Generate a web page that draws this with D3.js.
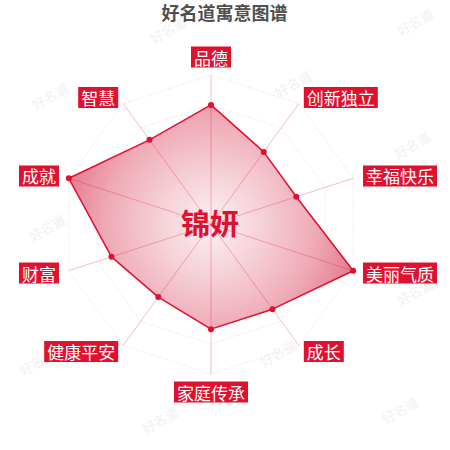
<!DOCTYPE html>
<html><head><meta charset="utf-8">
<script src="https://cdn.jsdelivr.net/npm/d3@7/dist/d3.min.js"></script>
<style>
html,body{margin:0;padding:0;background:#fff;}
svg{display:block;font-family:"Noto Sans CJK SC","Noto Sans",sans-serif;}
</style></head>
<body>
<svg id="chart" width="450" height="450"></svg>
<script>
const title = "好名道寓意图谱";
const centerName = "锦妍";
const indicators = ["品德","创新独立","幸福快乐","美丽气质","成长","家庭传承","健康平安","财富","成就","智慧"];
const values = [80, 60, 60, 100, 70, 70, 60, 70, 100, 70];
const maxValue = 100;
const splitLevels = [20, 40, 60, 80, 100];
const watermarkText = "好名道";

const W = 450, H = 450;
const cx = 211, cy = 224.5, R = 149.5;
const red = "#e0102f";

const svg = d3.select("#chart");
const defs = svg.append("defs");
const grad = defs.append("radialGradient").attr("id","fillGrad")
  .attr("gradientUnits","userSpaceOnUse").attr("cx",cx).attr("cy",cy).attr("r",R);
[[0,"#fcf0f2"],[0.35,"#f6d0d7"],[0.7,"#efaab7"],[1,"#e57b8d"]].forEach(s=>{
  grad.append("stop").attr("offset",s[0]).attr("stop-color",s[1]);
});

// watermarks (decorative)
const wmPos = [[415,22],[168,30],[293,84],[50,96],[412,145],[283,215],[47,228],[415,292],[278,353],[37,362],[400,410],[160,420]];
svg.append("g").selectAll("text").data(wmPos).join("text")
  .attr("transform", d=>`translate(${d[0]},${d[1]}) rotate(-30)`)
  .attr("text-anchor","middle").attr("dominant-baseline","central")
  .attr("font-size",13).attr("fill","#f1f1f1")
  .text(watermarkText);

const rScale = d3.scaleLinear().domain([0, maxValue]).range([0, R]);
const aScale = d3.scaleLinear().domain([0, indicators.length]).range([0, 2*Math.PI]);
const pt = (i, v) => {
  const a = aScale(i), r = rScale(v);
  return [cx + r*Math.sin(a), cy - r*Math.cos(a)];
};

// split lines
const gSplit = svg.append("g");
splitLevels.forEach(l=>{
  const pts = indicators.map((_,i)=>pt(i,l));
  gSplit.append("polygon").attr("points", pts.map(p=>p.join(",")).join(" "))
    .attr("fill","none").attr("stroke","#efd6db").attr("stroke-width",1)
    .attr("stroke-dasharray","1,2");
});

// data area
const dataPts = values.map((v,i)=>pt(i,v));
svg.append("polygon").attr("points", dataPts.map(p=>p.join(",")).join(" "))
  .attr("fill","url(#fillGrad)").attr("stroke","none");

// axis lines
svg.append("g").selectAll("line").data(indicators).join("line")
  .attr("x1",cx).attr("y1",cy)
  .attr("x2",(d,i)=>pt(i,maxValue)[0]).attr("y2",(d,i)=>pt(i,maxValue)[1])
  .attr("stroke","rgba(224,16,47,0.28)").attr("stroke-width",1);

// outline
svg.append("polygon").attr("points", dataPts.map(p=>p.join(",")).join(" "))
  .attr("fill","none").attr("stroke",red).attr("stroke-width",1.5).attr("stroke-linejoin","round");

svg.append("g").selectAll("circle").data(dataPts).join("circle")
  .attr("cx",d=>d[0]).attr("cy",d=>d[1]).attr("r",3).attr("fill",red);

// indicator labels
const gLab = svg.append("g");
indicators.forEach((name,i)=>{
  const a = aScale(i), s = Math.sin(a), c = Math.cos(a);
  let x, yc, anchor;
  if (Math.abs(s) < 0.01) {
    x = cx; yc = cy - c*167.5; anchor = "middle";
  } else {
    x = cx + s*163; yc = cy - c*157; anchor = s > 0 ? "start" : "end";
  }
  const g = gLab.append("g");
  const rect = g.append("rect").attr("fill",red);
  const t = g.append("text").attr("x",x).attr("y",yc)
    .attr("text-anchor",anchor).attr("dominant-baseline","central")
    .attr("font-size",17).attr("fill","#fff").text(name);
  const w = t.node().getComputedTextLength();
  const left = anchor==="start" ? x : anchor==="end" ? x - w : x - w/2;
  rect.attr("x",left-3).attr("y",yc-10.5).attr("width",w+6).attr("height",21);
});

// title
svg.append("text").attr("x",224.5).attr("y",11.5).attr("text-anchor","middle")
  .attr("dominant-baseline","central").attr("font-size",18).attr("font-weight","bold")
  .attr("fill","#4f4f4f").text(title);

// center name
svg.append("text").attr("x",210).attr("y",222).attr("text-anchor","middle")
  .attr("dominant-baseline","central").attr("font-size",29).attr("font-weight","bold")
  .attr("fill",red).text(centerName);
</script>
</body></html>
